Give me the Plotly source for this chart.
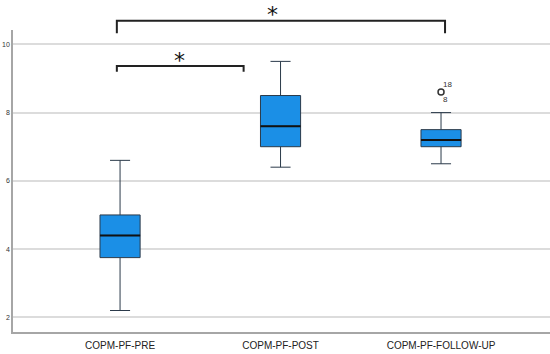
import plotly.graph_objects as go

categories = ["COPM-PF-PRE", "COPM-PF-POST", "COPM-PF-FOLLOW-UP"]
lower_whisker = [2.2, 6.4, 6.5]
q1 = [3.75, 7.0, 7.0]
median = [4.4, 7.6, 7.2]
q3 = [5.0, 8.5, 7.5]
upper_whisker = [6.6, 9.5, 8.0]
outlier_group = [2]
outlier_value = [8.6]
outlier_ids = ["18", "8"]
y_ticks = [2, 4, 6, 8, 10]

positions = list(range(len(categories)))
box_w = 0.25

fig = go.Figure()
fig.add_trace(go.Box(
    x=positions, q1=q1, median=median, q3=q3,
    lowerfence=lower_whisker, upperfence=upper_whisker,
    width=box_w, whiskerwidth=0.5,
    fillcolor="#1b8fe6", line=dict(color="#2b3a4a", width=1),
    boxpoints=False, hoverinfo="skip", showlegend=False,
))
fig.add_trace(go.Scatter(
    x=outlier_group, y=outlier_value, mode="markers",
    marker=dict(symbol="circle-open", size=6, color="#333333", line=dict(width=1.5)),
    showlegend=False, hoverinfo="skip",
))

shapes = []
for p, m in zip(positions, median):
    shapes.append(dict(type="line", xref="x", yref="y", x0=p - box_w / 2, x1=p + box_w / 2,
                       y0=m, y1=m, line=dict(color="#111111", width=2)))

def bracket(xa, xb, ytop, ybot):
    return dict(type="path", xref="x", yref="paper",
                path=f"M {xa},{ybot} L {xa},{ytop} L {xb},{ytop} L {xb},{ybot}",
                line=dict(color="#222222", width=2))

shapes.append(bracket(-0.02, 2.025, 1.031, 0.989))
shapes.append(bracket(-0.02, 0.77, 0.881, 0.862))

annotations = [
    dict(x=0.953, y=1.098, xref="x", yref="paper", text="*", showarrow=False,
         font=dict(size=22, color="#111111", family="DejaVu Sans"), yanchor="top"),
    dict(x=0.368, y=0.900, xref="x", yref="paper", text="*", showarrow=False,
         font=dict(size=22, color="#111111", family="DejaVu Sans"), yanchor="middle"),
    dict(x=outlier_group[0] + 0.04, y=outlier_value[0] + 0.22, xref="x", yref="y",
         text=outlier_ids[0], showarrow=False, font=dict(size=8, color="#333333")),
    dict(x=outlier_group[0] + 0.025, y=outlier_value[0] - 0.22, xref="x", yref="y",
         text=outlier_ids[1], showarrow=False, font=dict(size=8, color="#333333")),
]

fig.update_layout(
    width=550, height=354,
    margin=dict(l=13, r=0, t=30, b=22, autoexpand=False),
    paper_bgcolor="white", plot_bgcolor="white",
    font=dict(family="Liberation Sans", color="#222222"),
    shapes=shapes, annotations=annotations,
)
fig.update_xaxes(
    range=[-0.667, 2.679], tickvals=positions, ticktext=categories, automargin=False,
    showgrid=False, zeroline=False, showline=True, linecolor="#a6a6a6", linewidth=1.5,
    ticks="", tickfont=dict(size=10, color="#222222"), ticklabelstandoff=3,
)
fig.update_yaxes(
    range=[1.57, 10.42], tickvals=y_ticks, showgrid=True, gridcolor="#dcdcdc", gridwidth=1.5,
    zeroline=False, showline=True, linecolor="#a6a6a6", linewidth=1.5, automargin=False,
    ticks="", tickfont=dict(size=7, color="#333333"), ticklabelstandoff=0,
)
fig.write_html("out.html", config={"displayModeBar": False},
               post_script="document.body.style.margin='0';")
